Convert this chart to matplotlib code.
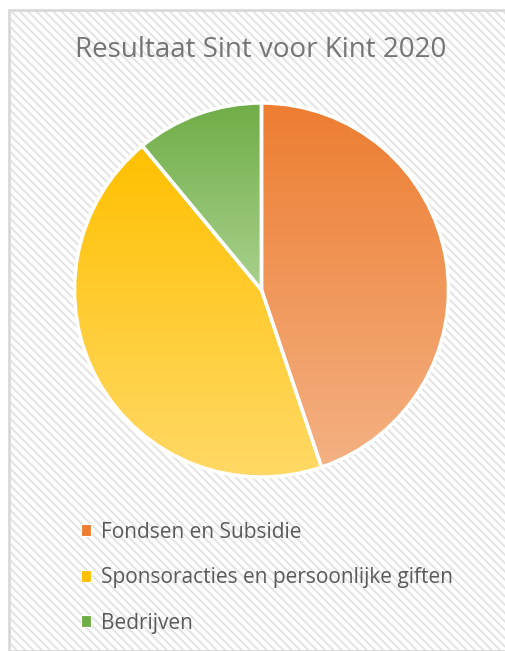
import matplotlib
matplotlib.use("Agg")
import matplotlib.pyplot as plt
import numpy as np
from matplotlib.colors import LinearSegmentedColormap
from matplotlib.patches import Rectangle

# data
categories = ["Fondsen en Subsidie", "Sponsoracties en persoonlijke giften", "Bedrijven"]
values = [44.8, 44.2, 11.0]
top_colors = ["#ED7D31", "#FFC000", "#70AD47"]
bottom_colors = ["#F4B183", "#FFD966", "#A9D18E"]
title = "Resultaat Sint voor Kint 2020"

plt.rcParams["font.family"] = ["Open Sans", "DejaVu Sans"]
plt.rcParams["hatch.linewidth"] = 1.4

W, H = 505, 651
fig = plt.figure(figsize=(W / 100, H / 100), dpi=100)

# striped chart area with thin grey border
x0, y0 = 9 / W, 0
bg = Rectangle((x0, y0), 1 - x0, 1 - 10 / H, transform=fig.transFigure,
               facecolor="white", edgecolor="#e3e3e3", hatch="\\" * 4, lw=0, zorder=-2)
fig.patches.append(bg)
border = Rectangle((x0, y0), 1 - x0 + 0.01, 1 - 10 / H, transform=fig.transFigure,
                   facecolor="none", edgecolor="#d9d9d9", lw=2, zorder=-1)
fig.patches.append(border)

# pie axes: centre (261, 290) px, radius 187 px
cx, cy, r = 261.5, 290, 187
ax = fig.add_axes([(cx - r) / W, (H - cy - r) / H, 2 * r / W, 2 * r / H])
ax.set_zorder(2)

wedges, _ = ax.pie(values, startangle=90, counterclock=False, radius=1,
                   colors=top_colors,
                   wedgeprops=dict(edgecolor="white", linewidth=2.5))

grad = np.linspace(0, 1, 256).reshape(-1, 1)
for w, c1, c2 in zip(wedges, top_colors, bottom_colors):
    bb = w.get_path().get_extents()
    cmap = LinearSegmentedColormap.from_list("g", [c1, c2])
    im = ax.imshow(grad, cmap=cmap, aspect="auto", origin="upper",
                   extent=[bb.x0, bb.x1, bb.y0, bb.y1], zorder=1)
    im.set_clip_path(w)
    w.set_facecolor("none")
    w.set_zorder(2)
ax.set_xlim(-1.0, 1.0)
ax.set_ylim(-1.0, 1.0)
ax.set_aspect("equal")
ax.axis("off")

fig.text(261 / W, 1 - 50 / H, title, ha="center", va="center",
         fontsize=20, color="#757575")

handles = [Rectangle((0, 0), 1, 1, facecolor=c, edgecolor="white", lw=0.8)
           for c in top_colors]
fig.legend(handles, categories, loc="upper left",
           bbox_to_anchor=(62 / W, 1 - 503 / H), frameon=False,
           fontsize=15, labelcolor="#595959", handlelength=0.5,
           handleheight=0.5, handletextpad=0.45, labelspacing=1.17)

fig.savefig("out.png", dpi=100)
